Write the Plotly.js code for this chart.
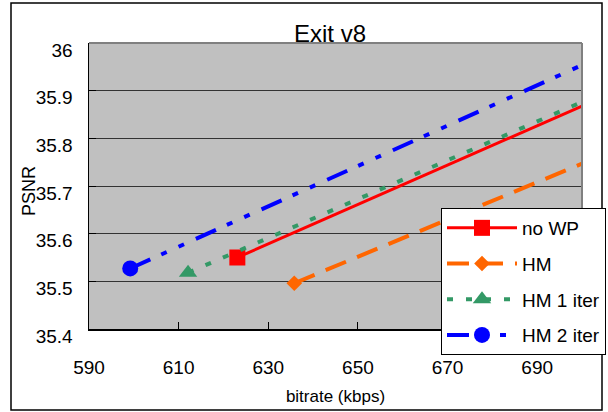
<!DOCTYPE html>
<html>
<head>
<meta charset="utf-8">
<script src="https://cdn.plot.ly/plotly-3.0.1.min.js"></script>
<style>
  html, body { margin: 0; padding: 0; background: #ffffff; }
  #chart { width: 608px; height: 412px; }
</style>
</head>
<body>
<div id="chart"></div>
<script>
// ---- data (second point of each curve lies beyond the x range) ----
const seriesNames = ["no WP", "HM", "HM 1 iter", "HM 2 iter"];
const bitrateNoWP = [623.1, 710];
const psnrNoWP    = [35.550, 35.909];
const bitrateHM   = [635.8, 710];
const psnrHM      = [35.496, 35.786];
const bitrateHM1  = [612.1, 710];
const psnrHM1     = [35.518, 35.917];
const bitrateHM2  = [599.2, 710];
const psnrHM2     = [35.527, 35.996];
const xTickVals   = [590, 610, 630, 650, 670, 690];
const yTickVals   = [35.4, 35.5, 35.6, 35.7, 35.8, 35.9, 36];
const yTitle      = "PSNR";

const FONT = "Liberation Sans, Arial, sans-serif";

const traces = [
  { x: bitrateNoWP, y: psnrNoWP, name: seriesNames[0], legendgroup: "a",
    mode: "lines+markers", line: { color: "#FF0000", width: 3 },
    marker: { symbol: "square", size: 16, color: "#FF0000" } },
  { x: bitrateHM, y: psnrHM, name: seriesNames[1], legendgroup: "b",
    mode: "lines+markers", line: { color: "#FF6600", width: 4, dash: "22px,12px" },
    marker: { symbol: "diamond", size: 12, color: "#FF6600" } },
  { x: bitrateHM1, y: psnrHM1, name: seriesNames[2], legendgroup: "c",
    mode: "lines+markers", line: { color: "#339966", width: 4, dash: "6px,13px" },
    marker: { symbol: "triangle-up", size: 16, color: "#339966" } },
  { x: bitrateHM2, y: psnrHM2, name: seriesNames[3], legendgroup: "d",
    mode: "lines+markers", line: { color: "#0000FF", width: 4, dash: "22px,12px,6px,13px,6px,13px" },
    marker: { symbol: "circle", size: 16, color: "#0000FF" } }
];

const layout = {
  width: 608, height: 412,
  margin: { l: 89, r: 26, t: 43, b: 83, pad: 0, autoexpand: false },
  paper_bgcolor: "#ffffff",
  plot_bgcolor: "#C0C0C0",
  font: { family: FONT, color: "#000000", size: 18 },
  title: { text: "Exit v8", font: { family: FONT, size: 24, color: "#000" },
           xref: "container", x: 330 / 608, xanchor: "center",
           yref: "container", y: 1 - 34 / 412, yanchor: "middle" },
  xaxis: {
    range: [590, 700], tickvals: xTickVals, ticktext: xTickVals.map(String),
    showgrid: false, zeroline: false,
    showline: true, linecolor: "#000", linewidth: 2,
    ticks: "inside", ticklen: 7, tickwidth: 1, tickcolor: "#000",
    ticklabelstandoff: 20,
    tickfont: { family: FONT, size: 19, color: "#000" },
    title: { text: "bitrate (kbps)", font: { family: FONT, size: 17, color: "#000" }, standoff: 13 }
  },
  yaxis: {
    range: [35.4, 36], tickvals: yTickVals, ticktext: yTickVals.map(v => String(v)),
    showgrid: true, gridcolor: "#333333", gridwidth: 1, zeroline: false,
    showline: true, linecolor: "#000", linewidth: 1.5,
    ticks: "inside", ticklen: 7, tickwidth: 1, tickcolor: "#000",
    ticklabelstandoff: 11, ticklabelshift: 7,
    tickfont: { family: FONT, size: 19, color: "#000" }
  },
  annotations: [
    { text: yTitle, textangle: -90, showarrow: false,
      xref: "paper", yref: "paper", x: (29 - 89) / 493, y: (329 - 191) / 286,
      xanchor: "center", yanchor: "middle",
      font: { family: FONT, size: 18, color: "#000" } }
  ],
  legend: {
    x: (441 - 89) / 493, y: (329 - 208) / 286, xanchor: "left", yanchor: "top",
    bgcolor: "#ffffff", bordercolor: "#000000", borderwidth: 1,
    font: { family: FONT, size: 19, color: "#000" },
    itemwidth: 70, tracegroupgap: 8, traceorder: "grouped"
  },
  shapes: [
    { type: "line", xref: "paper", yref: "paper", x0: 0, x1: 1, y0: 1, y1: 1,
      line: { color: "#808080", width: 2 }, layer: "above" },
    { type: "line", xref: "paper", yref: "paper", x0: 1, x1: 1, y0: 0, y1: 1,
      line: { color: "#808080", width: 2 }, layer: "above" },
    { type: "rect", xref: "paper", yref: "paper",
      x0: (11 - 89) / 493, x1: (602 - 89) / 493,
      y0: (329 - 410) / 286, y1: (329 - 3) / 286,
      line: { color: "#000000", width: 1.5 }, fillcolor: "rgba(0,0,0,0)", layer: "below" }
  ],
  showlegend: true
};

Plotly.newPlot("chart", traces, layout, { displayModeBar: false, staticPlot: true });
</script>
</body>
</html>
